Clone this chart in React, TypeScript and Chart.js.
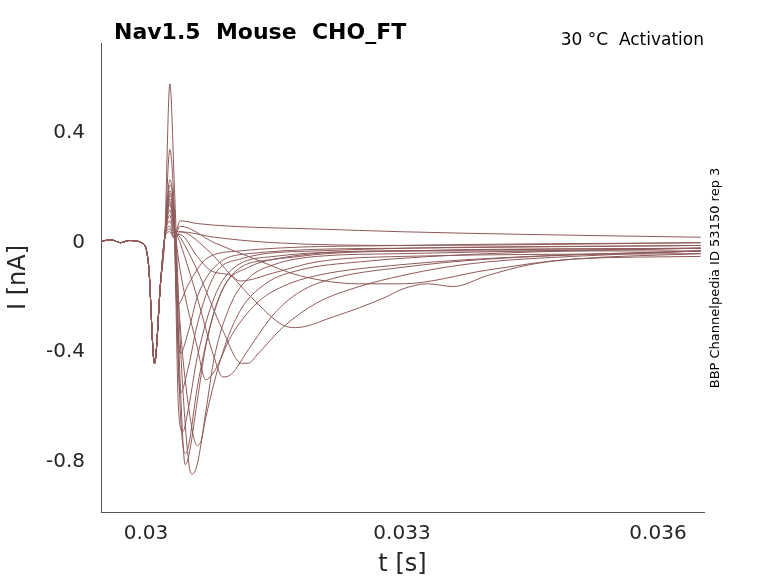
import React, { useEffect, useRef } from "react";
import { Chart, registerables } from "chart.js";
Chart.register(...registerables);

const titleText = "Nav1.5  Mouse  CHO_FT";
const subtitleText = "30 °C  Activation";
const sideText = "BBP Channelpedia ID 53150 rep 3";
const xTicks = [0.03, 0.033, 0.036];
const yTicks = [-0.8, -0.4, 0, 0.4];

// shared pre-pulse / artifact section: [t (s), I (nA)]
const pre: number[][] = [[0.02945, 0.005], [0.0296, 0.01], [0.0297, 0.0], [0.0298, 0.008], [0.02995, 0.0], [0.03003, -0.08], [0.0301, -0.44], [0.03017, -0.15], [0.03022, 0.02]];
// per-trace spike heights and post-spike points
const spikes = [0.58, 0.34, 0.23, 0.21, 0.19, 0.18, 0.17, 0.16, 0.15, 0.14, 0.12, 0.1, 0.08, 0.06, 0.05, 0.04];
const tr0: number[][] = [[0.0304, -0.35], [0.0305, -0.8], [0.03054, -0.845], [0.0306, -0.81], [0.0307, -0.62], [0.0308, -0.42], [0.031, -0.22], [0.0312, -0.13], [0.0315, -0.08], [0.032, -0.05], [0.033, -0.04], [0.0345, -0.03], [0.0365, -0.02]];
const tr1: number[][] = [[0.0304, -0.5], [0.03046, -0.81], [0.0305, -0.78], [0.0306, -0.58], [0.0307, -0.38], [0.0309, -0.17], [0.0312, -0.09], [0.0318, -0.05], [0.033, -0.03], [0.0365, -0.02]];
const tr2: number[][] = [[0.0304, -0.6], [0.03046, -0.77], [0.0305, -0.74], [0.0306, -0.53], [0.0308, -0.25], [0.031, -0.12], [0.0315, -0.06], [0.033, -0.03], [0.0365, -0.03]];
const tr3: number[][] = [[0.03038, -0.6], [0.03043, -0.69], [0.0305, -0.6], [0.0306, -0.42], [0.0308, -0.2], [0.031, -0.1], [0.0315, -0.05], [0.033, -0.03], [0.0365, -0.02]];
const tr4: number[][] = [[0.0304, -0.55], [0.0305, -0.45], [0.0306, -0.3], [0.0308, -0.12], [0.0311, -0.06], [0.032, -0.03], [0.0365, -0.01]];
const tr5: number[][] = [[0.0304, -0.405], [0.0305, -0.32], [0.0306, -0.2], [0.0308, -0.09], [0.0312, -0.04], [0.033, -0.02], [0.0365, -0.01]];
const tr6: number[][] = [[0.03036, -0.23], [0.0305, -0.15], [0.0307, -0.06], [0.0311, -0.03], [0.033, -0.01], [0.0365, 0.0]];
const tr7: number[][] = [[0.0304, -0.3], [0.0305, -0.6], [0.0306, -0.74], [0.03065, -0.72], [0.0307, -0.64], [0.0309, -0.4], [0.0311, -0.25], [0.0314, -0.15], [0.0318, -0.1], [0.0325, -0.07], [0.034, -0.04], [0.0365, -0.02]];
const tr8: number[][] = [[0.0304, -0.1], [0.0306, -0.38], [0.0307, -0.5], [0.0308, -0.47], [0.031, -0.34], [0.0313, -0.22], [0.0316, -0.16], [0.032, -0.12], [0.033, -0.08], [0.0345, -0.05], [0.0365, -0.03]];
const tr9: number[][] = [[0.0304, 0.0], [0.0306, -0.2], [0.0308, -0.42], [0.0309, -0.49], [0.031, -0.48], [0.0312, -0.39], [0.0315, -0.26], [0.0318, -0.18], [0.0322, -0.13], [0.033, -0.09], [0.034, -0.06], [0.0365, -0.03]];
const tr10: number[][] = [[0.0304, 0.02], [0.0306, -0.1], [0.0309, -0.32], [0.03112, -0.44], [0.0312, -0.44], [0.0313, -0.41], [0.0316, -0.31], [0.032, -0.22], [0.0325, -0.16], [0.033, -0.12], [0.0335, -0.09], [0.034, -0.07], [0.035, -0.05], [0.0365, -0.03]];
const tr11: number[][] = [[0.0304, 0.04], [0.0307, -0.02], [0.031, -0.12], [0.0313, -0.22], [0.0316, -0.3], [0.03175, -0.31], [0.0322, -0.27], [0.0328, -0.2], [0.033, -0.17], [0.0333, -0.15], [0.0336, -0.16], [0.034, -0.12], [0.0345, -0.08], [0.035, -0.06], [0.0365, -0.04]];
const tr12: number[][] = [[0.0304, 0.03], [0.0306, -0.05], [0.03075, -0.1], [0.031, -0.12], [0.0311, -0.14], [0.0315, -0.11], [0.032, -0.07], [0.033, -0.05], [0.0365, -0.04]];
const tr13: number[][] = [[0.0304, 0.06], [0.0308, 0.0], [0.0312, -0.05], [0.0318, -0.12], [0.0325, -0.15], [0.033, -0.15], [0.034, -0.1], [0.035, -0.06], [0.0365, -0.05]];
const tr14: number[][] = [[0.0304, 0.08], [0.0306, 0.07], [0.031, 0.06], [0.032, 0.05], [0.033, 0.04], [0.0345, 0.03], [0.0365, 0.02]];
const tr15: number[][] = [[0.0304, 0.04], [0.0308, 0.02], [0.0315, 0.0], [0.033, -0.01], [0.0365, 0.0]];
const traces = [tr0, tr1, tr2, tr3, tr4, tr5, tr6, tr7, tr8, tr9, tr10, tr11, tr12, tr13, tr14, tr15];

export default function App() {
  const ref = useRef<HTMLCanvasElement>(null);
  useEffect(() => {
    const color = "#8f5a5a";
    const datasets = traces.map((tr, i) => ({
      data: [...pre, [0.03028, spikes[i]], [0.03033, spikes[i] * 0.4], ...tr].map(([x, y]) => ({ x, y })),
      borderColor: color,
      borderWidth: 1,
      pointRadius: 0,
      cubicInterpolationMode: "monotone",
      fill: false,
    }));
    const textPlugin = {
      id: "texts",
      afterDraw(c: any) {
        const ctx = c.ctx;
        ctx.save();
        ctx.fillStyle = "#000";
        ctx.textBaseline = "middle";
        ctx.font = "bold 22px 'DejaVu Sans'";
        ctx.textAlign = "left";
        ctx.fillText(titleText, 114, 33);
        ctx.font = "17px 'DejaVu Sans'";
        ctx.textAlign = "right";
        ctx.fillText(subtitleText, 704, 41);
        ctx.translate(716, 278);
        ctx.rotate(-Math.PI / 2);
        ctx.textAlign = "center";
        ctx.font = "13px 'DejaVu Sans'";
        ctx.fillText(sideText, 0, 0);
        ctx.restore();
      },
    };
    const chart = new Chart(ref.current!, {
      type: "line",
      data: { datasets: datasets as any },
      plugins: [textPlugin],
      options: {
        animation: false,
        responsive: false,
        layout: { padding: { top: 43, right: 74, left: 0, bottom: 0 } },
        plugins: { legend: { display: false }, tooltip: { enabled: false } },
        scales: {
          x: {
            type: "linear",
            min: 0.029473,
            max: 0.036539,
            afterBuildTicks: (s: any) => { s.ticks = xTicks.map((v) => ({ value: v })); },
            afterFit: (s: any) => { s.height = 71; },
            ticks: { color: "#262626", font: { size: 20, family: "DejaVu Sans" }, callback: (v: any) => String(v), padding: 10 },
            grid: { display: false, drawTicks: false },
            border: { color: "#555" },
            title: { display: true, text: "t [s]", color: "#262626", font: { size: 24, family: "DejaVu Sans" }, padding: { top: 2 } },
          },
          y: {
            type: "linear",
            min: -0.983,
            max: 0.729,
            afterBuildTicks: (s: any) => { s.ticks = yTicks.map((v) => ({ value: v })); },
            afterFit: (s: any) => { s.width = 101; },
            ticks: { color: "#262626", font: { size: 20, family: "DejaVu Sans" }, callback: (v: any) => String(v), padding: 16 },
            grid: { display: false, drawTicks: false },
            border: { color: "#555" },
            title: { display: true, text: "I [nA]", color: "#262626", font: { size: 24, family: "DejaVu Sans" } },
          },
        },
      },
    });
    return () => chart.destroy();
  }, []);
  return (
    <div style={{ position: "fixed", left: 0, top: 0, width: 778, height: 583, background: "#fff" }}>
      <canvas ref={ref} width={778} height={583} />
    </div>
  );
}
